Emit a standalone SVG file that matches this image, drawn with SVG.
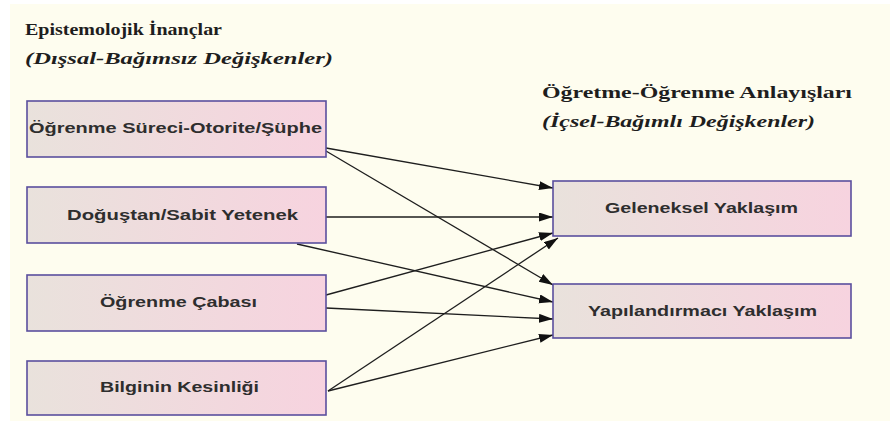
<svg xmlns="http://www.w3.org/2000/svg" width="890" height="423" viewBox="0 0 890 423">
<style>
.ttl{font-family:"Liberation Serif","Times New Roman",serif;font-weight:bold;font-size:16px;fill:#1e1e1e}
.sub{font-family:"Liberation Serif","Times New Roman",serif;font-weight:bold;font-style:italic;font-size:16px;fill:#1e1e1e}
.box{fill:url(#g);stroke:#5a4f9e;stroke-width:1.6}
.lbl{font-family:"Liberation Sans",Arial,sans-serif;font-weight:bold;font-size:15px;fill:#2e2e2e}
.con{stroke:#1e1e1e;stroke-width:1.3;fill:none;marker-end:url(#ah)}
</style>
<defs>
<linearGradient id="g" x1="0" y1="0" x2="1" y2="0">
<stop offset="0" stop-color="#e9e2dc"/>
<stop offset="1" stop-color="#f7d3df"/>
</linearGradient>
<marker id="ah" markerUnits="userSpaceOnUse" markerWidth="15" markerHeight="10" refX="14" refY="4.5" orient="auto">
<path d="M0,0 L14,4.5 L0,9 Z" fill="#111"/>
</marker>
</defs>
<rect x="0" y="0" width="890" height="423" fill="#ffffff"/>
<rect x="10" y="4" width="880" height="417" fill="#fefdef"/>
<g id="title-left">
<text class="ttl" x="25" y="35" textLength="197" lengthAdjust="spacingAndGlyphs">Epistemolojik İnançlar</text>
<text class="sub" x="25" y="64" textLength="308" lengthAdjust="spacingAndGlyphs">(Dışsal-Bağımsız Değişkenler)</text>
</g>
<g id="title-right">
<text class="ttl" x="542" y="98" textLength="310" lengthAdjust="spacingAndGlyphs">Öğretme-Öğrenme Anlayışları</text>
<text class="sub" x="542" y="127" textLength="273" lengthAdjust="spacingAndGlyphs">(İçsel-Bağımlı Değişkenler)</text>
</g>
<g id="connectors">
<line class="con" x1="326" y1="148" x2="553" y2="188"/>
<line class="con" x1="326" y1="151" x2="553" y2="285"/>
<line class="con" x1="326" y1="217" x2="553" y2="217"/>
<line class="con" x1="297" y1="244" x2="553" y2="302"/>
<line class="con" x1="326" y1="295" x2="553" y2="233"/>
<line class="con" x1="326" y1="308" x2="553" y2="319"/>
<line class="con" x1="328" y1="391" x2="558" y2="238"/>
<line class="con" x1="328" y1="391" x2="553" y2="335"/>
</g>
<g id="n1">
<rect class="box" x="27" y="101" width="299" height="56"/>
<text class="lbl" x="29" y="133" textLength="293" lengthAdjust="spacingAndGlyphs">Öğrenme  Süreci-Otorite/Şüphe</text>
</g>
<g id="n2">
<rect class="box" x="27" y="187" width="299" height="56"/>
<text class="lbl" x="67" y="220" textLength="231" lengthAdjust="spacingAndGlyphs">Doğuştan/Sabit Yetenek</text>
</g>
<g id="n3">
<rect class="box" x="27" y="275" width="299" height="56"/>
<text class="lbl" x="100" y="307" textLength="157" lengthAdjust="spacingAndGlyphs">Öğrenme Çabası</text>
</g>
<g id="n4">
<rect class="box" x="27" y="361" width="299" height="54"/>
<text class="lbl" x="100" y="392" textLength="159" lengthAdjust="spacingAndGlyphs">Bilginin Kesinliği</text>
</g>
<g id="n5">
<rect class="box" x="553" y="181" width="298" height="55"/>
<text class="lbl" x="605" y="213" textLength="193" lengthAdjust="spacingAndGlyphs">Geleneksel Yaklaşım</text>
</g>
<g id="n6">
<rect class="box" x="553" y="284" width="298" height="54"/>
<text class="lbl" x="588" y="316" textLength="229" lengthAdjust="spacingAndGlyphs">Yapılandırmacı Yaklaşım</text>
</g>
</svg>
